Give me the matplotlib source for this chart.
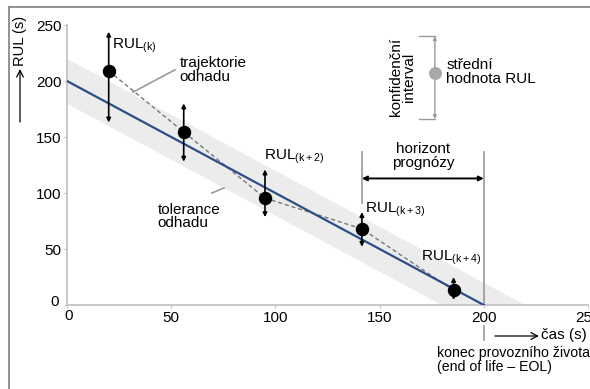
import matplotlib.pyplot as plt
from matplotlib.lines import Line2D

plt.rcParams["font.family"] = ["Liberation Sans", "DejaVu Sans"]

# ── data ─────────────────────────────────────────────────────────────────────
t_pts = [20, 56, 95, 141.5, 185.5]
rul_pts = [209, 154.5, 95.5, 68, 13]
err_lo = [163, 128, 78.5, 52, 4.5]
err_hi = [244, 180, 121, 83, 25]

true_t = [0, 200]
true_rul = [200, 0]
tol = 20

x_ticks = [0, 50, 100, 150, 200, 250]
y_ticks = [0, 50, 100, 150, 200, 250]

GRAY = "#9a9a9a"
AXIS = "#c4c4c4"
BAND = "#ececec"
BLUE = "#2c4e86"
FS = 11

fig = plt.figure(figsize=(5.9, 3.89), dpi=100)
ax = fig.add_axes([0.1136, 0.2159, 0.8830, 0.7198])

# tolerance band
bx = [0, 220]
ax.fill_between(bx, [200 + tol - x for x in bx], [200 - tol - x for x in bx],
                color=BAND, lw=0, zorder=1)
ax.plot(true_t, true_rul, color=BLUE, lw=1.6, zorder=3)
ax.plot(t_pts, rul_pts, color="#777777", lw=1.0, ls=(0, (3, 2)), zorder=2)

for t, lo, hi in zip(t_pts, err_lo, err_hi):
    ax.annotate("", xy=(t, hi), xytext=(t, lo),
                arrowprops=dict(arrowstyle="<|-|>", color="black", lw=1.2,
                                mutation_scale=6, shrinkA=0, shrinkB=0), zorder=4)
ax.scatter(t_pts, rul_pts, s=75, color="black", zorder=5)

ax.set_xlim(0, 250)
ax.set_ylim(0, 250)
ax.set_xticks(x_ticks)
ax.set_yticks(y_ticks)
ax.set_xticklabels(["", "50", "100", "150", "200", "250"])
ax.set_yticklabels(["", "50", "100", "150", "200", "250"])
ax.tick_params(labelsize=FS, length=2, color=AXIS, pad=2)
for s in ["top", "right"]:
    ax.spines[s].set_visible(False)
for s in ["left", "bottom"]:
    ax.spines[s].set_color(AXIS)
    ax.spines[s].set_linewidth(1.3)
ax.text(-4, 3, "0", ha="right", va="center", fontsize=FS)
ax.text(1, -4, "0", ha="center", va="top", fontsize=FS)

# labels of estimates
sub = r"$\mathregular{_{(%s)}}$"
ax.text(21.5, 231, "RUL" + sub % "k", fontsize=FS, va="center")
ax.text(94.5, 132, "RUL" + sub % "k + 2", fontsize=FS, va="center")
ax.text(143, 85, "RUL" + sub % "k + 3", fontsize=FS, va="center")
ax.text(170, 42, "RUL" + sub % "k + 4", fontsize=FS, va="center")

ax.text(54, 210, "trajektorie\nodhadu", fontsize=FS, va="center",
        linespacing=0.95)
ax.plot([51.8, 31.6], [210, 190], color=GRAY, lw=1.2)
ax.text(43.5, 79, "tolerance\nodhadu", fontsize=FS, va="center",
        linespacing=0.95)
ax.plot([69.5, 75.3], [100, 104.5], color=GRAY, lw=1.2)

# prediction horizon
ax.plot([141.5, 141.5], [91, 137], color=GRAY, lw=1.2)
ax.plot([200, 200], [0, 137], color=GRAY, lw=1.2)
ax.add_line(Line2D([200, 200], [-31, -19], color=GRAY, lw=1.2, clip_on=False))
ax.annotate("", xy=(141.5, 113), xytext=(200, 113),
            arrowprops=dict(arrowstyle="<|-|>", color="black", lw=1.4,
                            mutation_scale=7, shrinkA=0, shrinkB=0))
ax.text(171, 133, "horizont\nprognózy", fontsize=FS, ha="center",
        va="center", linespacing=0.95)

# confidence interval legend
ax.annotate("", xy=(176.5, 240), xytext=(176.5, 166),
            arrowprops=dict(arrowstyle="<|-|>", color=GRAY, lw=1.0,
                            mutation_scale=5, shrinkA=0, shrinkB=0))
ax.plot([169, 176.5], [240, 240], color=GRAY, lw=1.0)
ax.plot([169, 176.5], [166, 166], color=GRAY, lw=1.0)
ax.scatter([176.5], [207], s=70, color="#a8a8a8", zorder=5)
ax.text(161, 203.5, "konfidenční\ninterval", fontsize=FS, rotation=90,
        ha="center", va="center", linespacing=0.95)
ax.text(182, 208, "střední\nhodnota RUL", fontsize=FS, va="center",
        linespacing=0.95)

# axis titles
fig.text(20 / 590, 1 - 41 / 389, "RUL (s)", rotation=90, fontsize=10.5,
         ha="center", va="center")
ax.annotate("", xy=(20 / 590, 1 - 69 / 389), xytext=(20 / 590, 1 - 122 / 389),
            xycoords="figure fraction", textcoords="figure fraction",
            arrowprops=dict(arrowstyle="->", color="black", lw=0.9,
                            mutation_scale=12, shrinkA=0, shrinkB=0))
ax.annotate("", xy=(539 / 590, 1 - 336 / 389), xytext=(495 / 590, 1 - 336 / 389),
            xycoords="figure fraction", textcoords="figure fraction",
            arrowprops=dict(arrowstyle="->", color="black", lw=0.9,
                            mutation_scale=12, shrinkA=0, shrinkB=0))
fig.text(541 / 590, 1 - 335 / 389, "čas (s)", fontsize=FS, ha="left", va="center")
fig.text(437 / 590, 1 - 360 / 389, "konec provozního života\n(end of life – EOL)",
         fontsize=10.2, ha="left", va="center", linespacing=0.95)

# frame
fig.add_artist(Line2D([9 / 590, 9 / 590], [0, 1 - 7 / 389], color="#8a8a8a", lw=1.3))
fig.add_artist(Line2D([9 / 590, 1], [1 - 7 / 389, 1 - 7 / 389], color="#8a8a8a", lw=1.3))

fig.savefig("out.png", dpi=100)
